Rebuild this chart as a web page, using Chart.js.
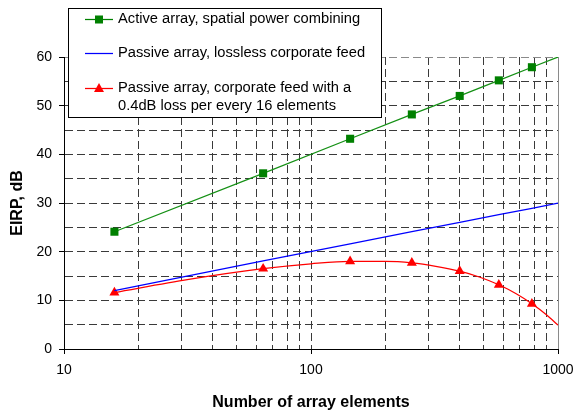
<!DOCTYPE html>
<html>
<head>
<meta charset="utf-8">
<script src="https://cdn.jsdelivr.net/npm/chart.js@4.4.1/dist/chart.umd.min.js"></script>
<style>
  html, body { margin: 0; padding: 0; background: #fff; }
  #c { display: block; }
</style>
</head>
<body>
<canvas id="c" width="576" height="413"></canvas>
<script>
// Array sizes (number of elements) where the marked points sit
const markerElements = [16, 64, 144, 256, 400, 576, 784];

// Active array, spatial power combining (dB)
const activeElements = [16, 64, 144, 256, 400, 576, 784, 1000];
const activeEirp = [24.1, 36.1, 43.2, 48.2, 52.0, 55.2, 57.9, 60.0];

// Passive array, lossless corporate feed (dB)
const losslessElements = [16, 64, 144, 256, 400, 576, 784, 1000];
const losslessEirp = [12.0, 18.1, 21.6, 24.1, 26.0, 27.6, 28.9, 30.0];

// Passive array, corporate feed with 0.4 dB loss per 16 elements (dB)
const lossyCurveElements = [16, 32, 64, 100, 144, 200, 256, 320, 400, 480, 576, 680, 784, 900, 1000];
const lossyCurveEirp = [11.6, 14.3, 16.5, 17.5, 18.0, 18.0, 17.7, 17.0, 16.0, 14.8, 13.2, 11.3, 9.3, 7.0, 4.9];
const lossyMarkerEirp = [11.6, 16.5, 18.0, 17.7, 16.0, 13.2, 9.3];

// Axis ticks
const xTickValues = [10, 20, 30, 40, 50, 60, 70, 80, 90, 100, 200, 300, 400, 500, 600, 700, 800, 900, 1000];
const xLabelValues = [10, 100, 1000];

const legendItems = [
  { lines: ['Active array, spatial power combining'], color: '#008000', marker: 'square' },
  { lines: ['Passive array, lossless corporate feed'], color: '#0000ff', marker: null },
  { lines: ['Passive array, corporate feed with a', '0.4dB loss per every 16 elements'], color: '#ff0000', marker: 'triangle' }
];

const pts = (xs, ys) => xs.map((x, i) => ({ x: x, y: ys[i] }));

const FONT_FAMILY = "'Liberation Sans', Arial, sans-serif";
Chart.defaults.font.family = FONT_FAMILY;
Chart.defaults.font.size = 14;
Chart.defaults.color = '#000';

const GRID_COLOR = '#3a3a3a';

// Boxed legend drawn over the plot area
const boxLegend = {
  id: 'boxLegend',
  afterDraw(chart) {
    const ctx = chart.ctx;
    ctx.save();
    ctx.fillStyle = '#fff';
    ctx.strokeStyle = '#000';
    ctx.lineWidth = 1;
    ctx.fillRect(68.5, 8.5, 313, 109);
    ctx.strokeRect(68.5, 8.5, 313, 109);

    const rowY = [19, 53, 88];
    ctx.font = '14.7px ' + FONT_FAMILY;
    ctx.textBaseline = 'middle';
    ctx.textAlign = 'left';
    legendItems.forEach((item, i) => {
      const y = rowY[i];
      ctx.strokeStyle = item.color;
      ctx.lineWidth = 1.25;
      ctx.beginPath();
      ctx.moveTo(85, y + 0.5);
      ctx.lineTo(113, y + 0.5);
      ctx.stroke();
      ctx.fillStyle = item.color;
      if (item.marker === 'square') {
        ctx.fillRect(95, y - 3.5, 8, 8);
      } else if (item.marker === 'triangle') {
        ctx.beginPath();
        ctx.moveTo(99, y - 5);
        ctx.lineTo(104, y + 4);
        ctx.lineTo(94, y + 4);
        ctx.closePath();
        ctx.fill();
      }
      ctx.fillStyle = '#000';
      item.lines.forEach((t, k) => ctx.fillText(t, 118, y + k * 18));
    });
    ctx.restore();
  }
};

new Chart(document.getElementById('c'), {
  type: 'line',
  data: {
    datasets: [
      {
        label: 'Active array, spatial power combining',
        data: pts(activeElements, activeEirp),
        borderColor: '#149014',
        borderWidth: 1.25,
        backgroundColor: '#008000',
        pointStyle: 'rect',
        pointRadius: ctx => (markerElements.includes(activeElements[ctx.dataIndex]) ? 5.7 : 0),
        pointBorderWidth: 0,
        tension: 0
      },
      {
        label: 'Passive array, lossless corporate feed',
        data: pts(losslessElements, losslessEirp),
        borderColor: '#0000ff',
        borderWidth: 1.25,
        pointRadius: 0,
        tension: 0
      },
      {
        label: 'Passive array, corporate feed with a 0.4dB loss per every 16 elements',
        data: pts(lossyCurveElements, lossyCurveEirp),
        borderColor: '#ff0000',
        borderWidth: 1.25,
        pointRadius: 0,
        cubicInterpolationMode: 'monotone'
      },
      {
        label: 'lossy markers',
        data: pts(markerElements, lossyMarkerEirp),
        showLine: false,
        backgroundColor: '#ff0000',
        borderColor: '#ff0000',
        pointStyle: 'triangle',
        pointRadius: 5.8,
        pointBorderWidth: 0
      }
    ]
  },
  options: {
    responsive: false,
    animation: false,
    events: [],
    layout: { padding: { left: 7, top: 57, right: 18, bottom: 0 } },
    plugins: {
      legend: { display: false },
      tooltip: { enabled: false }
    },
    scales: {
      x: {
        type: 'logarithmic',
        min: 10,
        max: 1000,
        afterBuildTicks: scale => { scale.ticks = xTickValues.map(v => ({ value: v })); },
        afterFit: scale => {
          scale.height = 64;
          scale.paddingLeft = 0;
          scale.paddingRight = 0;
        },
        ticks: {
          autoSkip: false,
          maxRotation: 0,
          padding: 8,
          color: '#000',
          callback: v => (xLabelValues.includes(v) ? String(v) : '')
        },
        grid: {
          color: ctx => (ctx.tick && ctx.tick.value === 1000 ? '#8a8a8a' : GRID_COLOR),
          lineWidth: 1,
          tickLength: 5,
          tickColor: ctx => (ctx.tick && xLabelValues.includes(ctx.tick.value) ? '#000' : 'rgba(0,0,0,0)')
        },
        border: {
          color: '#000',
          width: 1,
          dash: ctx => (ctx.tick && ctx.tick.value === 1000 ? [] : [8, 4])
        },
        title: {
          display: true,
          text: 'Number of array elements',
          font: { weight: 'bold', size: 16 },
          padding: { top: 1, bottom: 1 }
        }
      },
      y: {
        min: 0,
        max: 60,
        afterFit: scale => { scale.width = 57; },
        ticks: {
          stepSize: 5,
          padding: 7,
          color: '#000',
          callback: v => (v % 10 === 0 ? String(v) : '')
        },
        grid: {
          color: ctx => (ctx.tick && ctx.tick.value === 60 ? '#8a8a8a' : GRID_COLOR),
          lineWidth: 1,
          tickLength: 5,
          tickColor: ctx => (ctx.tick && ctx.tick.value % 10 === 0 ? '#000' : 'rgba(0,0,0,0)')
        },
        border: {
          color: '#000',
          width: 1,
          dash: [8, 4]
        },
        title: {
          display: true,
          text: 'EIRP, dB',
          font: { weight: 'bold', size: 16 },
          padding: { top: 1, bottom: 1 }
        }
      }
    }
  },
  plugins: [boxLegend]
});
</script>
</body>
</html>
